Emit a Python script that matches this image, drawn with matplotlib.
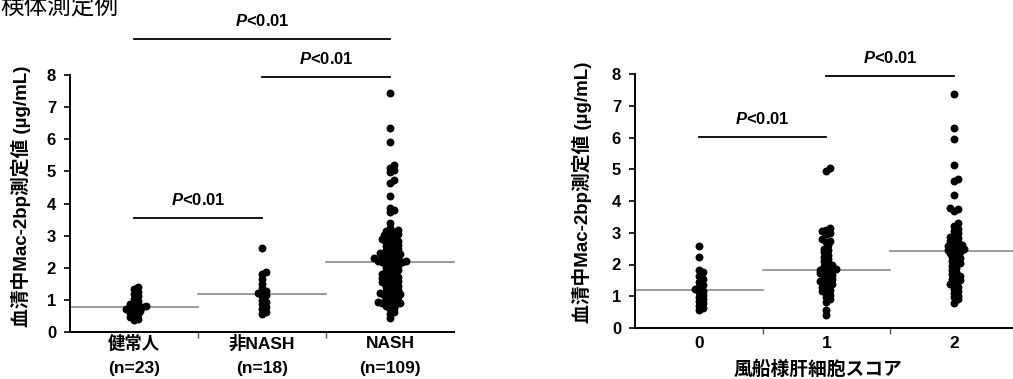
import numpy as np
import matplotlib
matplotlib.use('Agg')
import matplotlib.pyplot as plt
import matplotlib.transforms as mtransforms

plt.rcParams['font.family'] = ['Liberation Sans', 'Noto Sans CJK JP', 'DejaVu Sans']
plt.rcParams['mathtext.fontset'] = 'custom'
plt.rcParams['mathtext.it'] = 'Liberation Sans:italic:bold'
plt.rcParams['mathtext.rm'] = 'Liberation Sans:bold'

# ---- data ----
title = '検体測定例'
ylabel = '血清中Mac-2bp測定値 (µg/mL)'

left_groups = ['健常人', '非NASH', 'NASH']
left_counts = ['(n=23)', '(n=18)', '(n=109)']
healthy = [1.38, 1.32, 1.25, 1.18, 1.10, 1.02, 0.95, 0.90, 0.85, 0.80, 0.78, 0.77,
           0.75, 0.72, 0.70, 0.66, 0.62, 0.58, 0.55, 0.50, 0.45, 0.40, 0.35]
non_nash = [2.60, 1.86, 1.80, 1.65, 1.50, 1.35, 1.28, 1.22, 1.20, 1.16, 1.10, 0.98,
            0.92, 0.85, 0.78, 0.70, 0.62, 0.56]
nash = [7.44, 6.35, 5.92, 5.20, 5.12, 5.05, 4.98, 4.72, 4.65, 4.23, 3.87, 3.80, 3.75,
        3.38, 3.25, 3.18, 3.15, 3.12, 3.10, 3.06, 3.03, 3.00, 2.97,
        2.92, 2.90, 2.88, 2.85, 2.82, 2.80, 2.76, 2.72, 2.70, 2.66, 2.62, 2.60, 2.57,
        2.54, 2.50, 2.47, 2.44, 2.42, 2.40, 2.37, 2.35, 2.33, 2.31, 2.29, 2.27, 2.25,
        2.23, 2.21, 2.20, 2.19, 2.185, 2.18,
        2.15, 2.12, 2.10, 2.06, 2.02, 2.00, 1.97, 1.94, 1.90, 1.87, 1.84, 1.80, 1.78,
        1.75, 1.72, 1.70, 1.68, 1.65, 1.62, 1.60, 1.58, 1.55, 1.52, 1.50, 1.47, 1.44,
        1.40, 1.37, 1.34, 1.30, 1.27, 1.24, 1.22, 1.20, 1.18, 1.15, 1.12, 1.10, 1.07,
        1.04, 1.00, 0.97, 0.94, 0.92, 0.90, 0.88, 0.86, 0.84, 0.80, 0.75, 0.70, 0.62,
        0.55, 0.43]
left_data = [healthy, non_nash, nash]
left_sig = [(0, 2, 9.13), (1, 2, 7.95), (0, 1, 3.55)]

right_groups = ['0', '1', '2']
right_xlabel = '風船様肝細胞スコア'
score0 = [2.58, 2.24, 1.83, 1.75, 1.65, 1.55, 1.45, 1.35, 1.28, 1.22, 1.18, 1.12,
          1.05, 0.98, 0.92, 0.85, 0.78, 0.70, 0.62, 0.57]
score1 = [5.05, 4.95, 3.15, 3.10, 3.05, 3.00, 2.95, 2.80, 2.75, 2.72, 2.60, 2.50,
          2.45, 2.38, 2.30, 2.24, 2.18, 2.10, 2.05, 2.00, 1.95, 1.90, 1.87, 1.84, 1.82,
          1.80, 1.76, 1.72, 1.70, 1.66, 1.62, 1.58, 1.54, 1.50, 1.47, 1.43, 1.40, 1.36,
          1.30, 1.25, 1.20, 1.15, 1.10, 1.04, 0.98, 0.90, 0.82, 0.57, 0.41]
score2 = [7.38, 6.30, 5.95, 5.12, 4.68, 4.62, 4.18, 3.78, 3.74, 3.68, 3.32, 3.22,
          3.12, 3.05, 2.98, 2.92, 2.88, 2.84, 2.80, 2.74, 2.70, 2.66, 2.62, 2.58, 2.55,
          2.52, 2.49, 2.46, 2.44, 2.40, 2.35, 2.30, 2.24, 2.20, 2.15, 2.10, 2.05, 2.00,
          1.95, 1.88, 1.82, 1.76, 1.70, 1.65, 1.60, 1.55, 1.50, 1.46, 1.40, 1.35, 1.30,
          1.22, 1.15, 1.10, 1.02, 0.98, 0.90, 0.80]
right_data = [score0, score1, score2]
right_sig = [(0, 1, 6.02), (1, 2, 7.94)]

sig_text = r'$P$<0.01'


def swarm(vals, ypx, xpx, d=3.8, step=2.0):
    # simple beeswarm in pixel space, returns offsets in category units
    placed = []
    offs = np.zeros(len(vals))
    order = np.argsort(vals)
    for i in order:
        y = vals[i] * ypx
        k = 0
        while True:
            n = (k + 1) // 2 * (1 if k % 2 else -1)
            x = n * step
            if all((x - px) ** 2 + (y - py) ** 2 >= d * d for px, py in placed):
                break
            k += 1
        placed.append((x, y))
        offs[i] = x / xpx
    return offs


def draw_panel(ax, data, sig, ypx, xpx):
    for i, vals in enumerate(data):
        vals = np.array(vals)
        xs = i + swarm(vals, ypx, xpx)
        ax.plot(xs, vals, 'o', color='k', ms=5.7, mew=0, zorder=3, clip_on=False)
        ax.plot([i - 0.5, i + 0.5], [np.median(vals)] * 2, '-', color='#8a8a8a',
                lw=1.2, zorder=2, clip_on=False)
    for a, b, h in sig:
        ax.plot([a, b], [h, h], '-', color='k', lw=1.3, clip_on=False)
        ax.text((a + b) / 2, h + 0.56, sig_text, ha='center', va='center',
                fontsize=12, fontweight='bold')
    ax.set_xlim(-0.5, 2.5)
    ax.set_ylim(0, 8)
    ax.set_yticks(range(0, 9))
    ax.set_xticks([0.5, 1.5])
    ax.set_xticklabels([])
    for s in ['top', 'right']:
        ax.spines[s].set_visible(False)
    for s in ['left', 'bottom']:
        ax.spines[s].set_linewidth(1.4)
    ax.tick_params(axis='y', length=4, width=1.2, pad=6, labelsize=12)
    ax.tick_params(axis='x', length=4, width=1.0, color='#555555')
    for t in ax.get_yticklabels():
        t.set_fontweight('bold')


W, H = 1013, 379
fig = plt.figure(figsize=(W / 100, H / 100), dpi=100)

axL = fig.add_axes([70 / W, 1 - 331.7 / H, 384 / W, 256.4 / H])
axR = fig.add_axes([635 / W, 1 - 328 / H, 382.5 / W, 254 / H])

draw_panel(axL, left_data, left_sig, 32.05, 128)
draw_panel(axR, right_data, right_sig, 31.75, 127.5)

# category labels
for ax, labels, dy in [(axL, left_groups, -11.5), (axR, right_groups, -15)]:
    trans = mtransforms.blended_transform_factory(ax.transData, ax.transAxes)
    for i, lab in enumerate(labels):
        ax.annotate(lab, (i, 0), xycoords=trans, xytext=(0, dy), textcoords='offset pixels',
                    ha='center', va='center', fontsize=12.5, fontweight='bold')
transL = mtransforms.blended_transform_factory(axL.transData, axL.transAxes)
for i, lab in enumerate(left_counts):
    axL.annotate(lab, (i, 0), xycoords=transL, xytext=(0, -36.5), textcoords='offset pixels',
                 ha='center', va='center', fontsize=12.5, fontweight='bold')

fig.text(818 / W, 1 - 370 / H, right_xlabel, ha='center', va='center',
         fontsize=13.5, fontweight='bold')

fig.text(21 / W, 1 - 196 / H, ylabel, rotation=90, ha='center', va='center',
         fontsize=13.5, fontweight='bold')
fig.text(582 / W, 1 - 192 / H, ylabel, rotation=90, ha='center', va='center',
         fontsize=13.5, fontweight='bold')

fig.text(0, 1 - 15 / H, title, ha='left', va='baseline', fontsize=17)

fig.savefig('out.png', dpi=100)
